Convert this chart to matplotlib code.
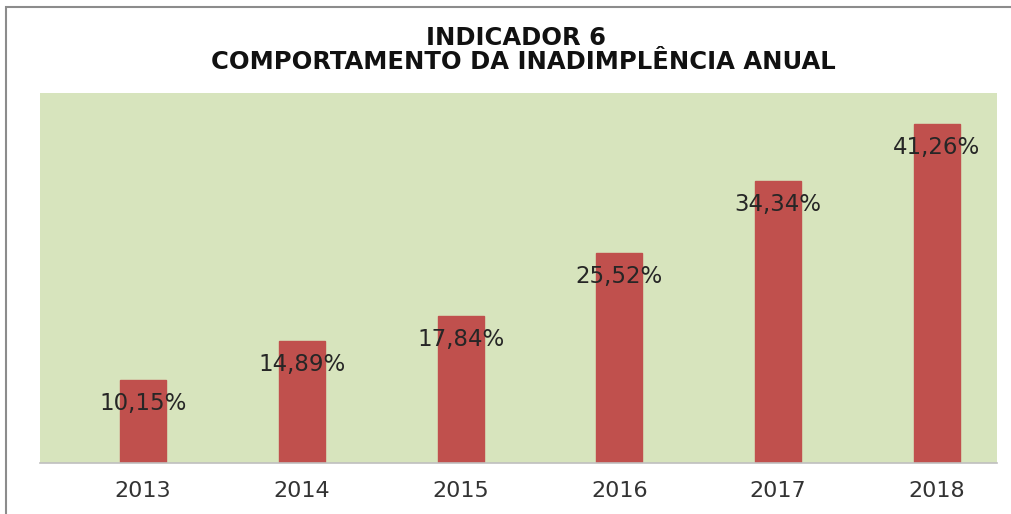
import matplotlib
matplotlib.use("Agg")
import matplotlib.pyplot as plt
from matplotlib.patches import Rectangle

years = ["2013", "2014", "2015", "2016", "2017", "2018"]
values = [10.15, 14.89, 17.84, 25.52, 34.34, 41.26]
labels = ["10,15%", "14,89%", "17,84%", "25,52%", "34,34%", "41,26%"]

fig = plt.figure(figsize=(10.12, 5.14), dpi=100)
fig.patch.set_facecolor("white")

# outer chart border
fig.add_artist(Rectangle((6/1012, -0.1), 1.2, (514-7)/514 + 0.1,
                         transform=fig.transFigure, fill=False,
                         edgecolor="#8c8c8c", linewidth=1.5))

ax = fig.add_axes([40/1012, (514-463)/514, 957/1012, 370/514])
ax.set_facecolor("#D7E4BD")
x = list(range(len(years)))
ax.bar(x, values, width=0.29, color="#C0504D", edgecolor="#C0504D", zorder=2)
ax.set_xlim(-0.65, len(years) - 1 + 0.38)
ax.set_ylim(0, 45)
ax.set_yticks([])
ax.set_xticks(x)
ax.set_xticklabels(years, fontsize=16, color="#333333", family="DejaVu Sans")
ax.tick_params(axis="x", length=0, pad=13)
for s in ["top", "right", "left"]:
    ax.spines[s].set_visible(False)
ax.spines["bottom"].set_color("#bfbfbf")
ax.spines["bottom"].set_linewidth(1.2)

for xi, v, lab in zip(x, values, labels):
    ax.annotate(lab, (xi, v), xytext=(0, -17), textcoords="offset points",
                ha="center", va="center", fontsize=16.5, color="#262626",
                family="DejaVu Sans", zorder=3)

fig.text(0.51, 1 - 38/514, "INDICADOR 6", ha="center", va="center",
         fontsize=17.5, fontweight="bold", family="DejaVu Sans", color="#111111")
fig.text(0.517, 1 - 62/514, "COMPORTAMENTO DA INADIMPLÊNCIA ANUAL", ha="center",
         va="center", fontsize=17.5, fontweight="bold", family="DejaVu Sans",
         color="#111111")

fig.savefig("out.png", dpi=100)
